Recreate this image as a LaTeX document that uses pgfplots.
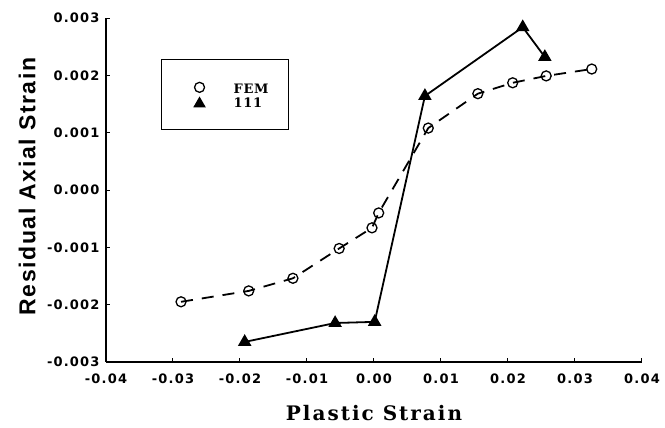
\documentclass[border=0pt]{standalone}
\usepackage{fontspec}
\usepackage{pgfplots}
\pgfplotsset{compat=1.18}
\setmainfont{DejaVu Sans}
\newfontfamily\tickfont[LetterSpace=9]{DejaVu Sans}
\newfontfamily\labelsans[LetterSpace=7]{Liberation Sans}
\newfontfamily\labelserif[LetterSpace=10]{DejaVu Serif}
\newfontfamily\legendserif[LetterSpace=6]{DejaVu Serif}

\begin{document}
\begin{tikzpicture}
\path[use as bounding box] (-106pt,-66pt) rectangle (559pt,362pt);
\begin{axis}[
  at={(0pt,0pt)}, anchor=south west,
  scale only axis, width=536pt, height=344pt,
  xmin=-0.04, xmax=0.04, ymin=-0.003, ymax=0.003,
  scaled ticks=false,
  axis x line*=bottom, axis y line*=left,
  axis line style={line width=1.4pt},
  tick align=inside, major tick length=4pt,
  tick style={line width=1pt, black},
  xtick={-0.04,-0.03,-0.02,-0.01,0,0.01,0.02,0.03,0.04},
  xticklabels={-0.04,-0.03,-0.02,-0.01,0.00,0.01,0.02,0.03,0.04},
  ytick={-0.003,-0.002,-0.001,0,0.001,0.002,0.003},
  yticklabels={-0.003,-0.002,-0.001,0.000,0.001,0.002,0.003},
  xticklabel style={font=\tickfont\bfseries\fontsize{13}{13}\selectfont, yshift=-8pt},
  yticklabel style={font=\tickfont\bfseries\fontsize{13}{13}\selectfont, xshift=-3pt},
  xlabel={Plastic Strain},
  ylabel={Residual Axial Strain},
  xlabel style={font=\labelserif\bfseries\fontsize{20}{20}\selectfont,
    at={(axis description cs:0.5,-0.148)}, anchor=center},
  ylabel style={font=\labelsans\bfseries\fontsize{23}{23}\selectfont,
    at={(axis description cs:-0.147,0.51)}, anchor=center},
  legend style={at={(axis cs:-0.0318,0.002285)}, anchor=north west,
    draw=black, line width=1.2pt, inner xsep=16pt, inner ysep=19pt,
    row sep=1pt,
    font=\legendserif\bfseries\fontsize{13}{13}\selectfont,
    nodes={inner xsep=4pt, inner ysep=1pt}},
  legend cell align=left,
  legend image code/.code={%
    \path[draw=none, fill=none] (-22pt,0pt) (30pt,0pt);
    \draw[line width=1.2pt, solid] plot coordinates {(0pt,0pt)};},
  clip=false,
]
% FEM results: dashed line through open circles
\addplot[black, line width=1.8pt, dash pattern=on 12pt off 9pt,
  mark=o, mark size=5pt, mark options={solid, line width=1.3pt}]
  coordinates {
  (-0.0288,-0.00195)
  (-0.0187,-0.00176)
  (-0.0121,-0.00154)
  (-0.0052,-0.00102)
  (-0.0003,-0.00066)
  (0.0007,-0.00040)
  (0.0081,0.00108)
  (0.0155,0.00168)
  (0.0207,0.00187)
  (0.0257,0.00199)
  (0.0325,0.00211)
  };
\addlegendentry{\rule{0pt}{14pt}FEM\hspace{16pt}}
% 111 results: solid line through filled triangles
\addplot[black, line width=1.8pt, mark=triangle*, mark size=6pt,
  mark options={solid, fill=black}]
  coordinates {
  (-0.0193,-0.00265)
  (-0.0058,-0.00232)
  (0.0001,-0.00230)
  (0.0076,0.00164)
  (0.0222,0.00284)
  (0.0255,0.00232)
  };
\addlegendentry{111}
\end{axis}
\end{tikzpicture}
\end{document}
